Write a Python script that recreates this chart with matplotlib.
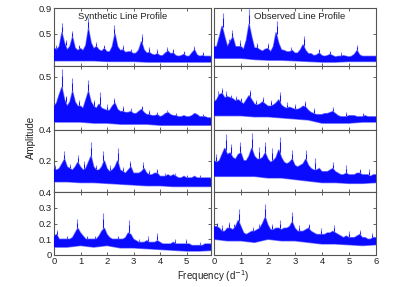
import numpy as np
import matplotlib
matplotlib.use("Agg")
import matplotlib.pyplot as plt

plt.rcParams['font.family'] = ['Liberation Sans', 'DejaVu Sans']

# frequency grids (d^-1)
freq_left = np.round(np.arange(0, 5.95, 0.1), 2)      # 0.0 .. 5.9
freq_right = np.round(np.arange(0, 6.05, 0.1), 2)     # 0.0 .. 6.0
freq_coarse = np.round(np.arange(0, 6.05, 0.5), 2)    # 0.0 .. 6.0

# ---- synthetic line profile (left column), upper edge of dense band ----
syn1_hi = [0.28, 0.25, 0.30, 0.52, 0.35, 0.25, 0.30, 0.45, 0.28, 0.24,
           0.27, 0.24, 0.32, 0.58, 0.36, 0.27, 0.30, 0.25, 0.23, 0.27,
           0.22, 0.22, 0.30, 0.50, 0.30, 0.24, 0.25, 0.21, 0.22, 0.22,
           0.19, 0.20, 0.25, 0.38, 0.25, 0.20, 0.21, 0.18, 0.17, 0.19,
           0.16, 0.16, 0.20, 0.23, 0.19, 0.20, 0.16, 0.15, 0.16, 0.18,
           0.15, 0.15, 0.20, 0.25, 0.17, 0.15, 0.16, 0.15, 0.15, 0.15]
syn1_lo = [0.08, 0.08, 0.08, 0.08, 0.07, 0.07, 0.07, 0.06, 0.06, 0.06, 0.06, 0.06, 0.06]
syn1_spk_f = [0.29, 0.67, 1.30, 2.27, 3.30, 4.26, 5.27, 0.08, 0.45, 0.95, 1.60, 1.90,
              2.60, 2.90, 3.60, 3.90, 4.50, 4.90, 5.60]
syn1_spk_a = [0.66, 0.55, 0.75, 0.63, 0.50, 0.29, 0.31, 0.32, 0.40, 0.33, 0.38, 0.33,
              0.32, 0.27, 0.30, 0.26, 0.27, 0.23, 0.22]

syn2_hi = [0.22, 0.25, 0.33, 0.40, 0.28, 0.22, 0.26, 0.36, 0.26, 0.22,
           0.22, 0.20, 0.28, 0.36, 0.26, 0.22, 0.20, 0.24, 0.20, 0.19,
           0.18, 0.18, 0.22, 0.25, 0.19, 0.17, 0.17, 0.16, 0.16, 0.17,
           0.15, 0.15, 0.17, 0.19, 0.16, 0.14, 0.14, 0.13, 0.13, 0.14,
           0.12, 0.13, 0.15, 0.16, 0.14, 0.13, 0.13, 0.12, 0.12, 0.13,
           0.12, 0.12, 0.13, 0.15, 0.14, 0.12, 0.12, 0.12, 0.11, 0.11]
syn2_lo = [0.07, 0.07, 0.07, 0.06, 0.06, 0.05, 0.05, 0.05, 0.04, 0.04, 0.04, 0.04, 0.04]
syn2_spk_f = [0.29, 0.69, 1.27, 1.74, 2.28, 3.30, 4.25, 5.30, 0.10, 0.45, 0.95, 1.50,
              2.00, 2.60, 2.90, 3.60, 3.90, 4.60, 5.60]
syn2_spk_a = [0.57, 0.49, 0.47, 0.35, 0.30, 0.22, 0.18, 0.16, 0.30, 0.32, 0.28, 0.28,
              0.24, 0.22, 0.20, 0.18, 0.17, 0.16, 0.15]

syn3_hi = [0.15, 0.14, 0.15, 0.18, 0.21, 0.16, 0.15, 0.14, 0.16, 0.19,
           0.16, 0.14, 0.15, 0.19, 0.23, 0.16, 0.14, 0.14, 0.16, 0.20,
           0.15, 0.13, 0.14, 0.16, 0.20, 0.14, 0.13, 0.12, 0.14, 0.16,
           0.12, 0.12, 0.12, 0.13, 0.15, 0.12, 0.11, 0.11, 0.12, 0.12,
           0.10, 0.10, 0.10, 0.11, 0.10, 0.11, 0.10, 0.09, 0.09, 0.10,
           0.09, 0.09, 0.09, 0.10, 0.09, 0.09, 0.09, 0.09, 0.09, 0.09]
syn3_lo = [0.065, 0.065, 0.06, 0.06, 0.055, 0.05, 0.045, 0.04, 0.04, 0.035, 0.035, 0.035, 0.035]
syn3_spk_f = [0.39, 0.89, 1.38, 1.86, 2.40, 2.87, 3.37, 3.87, 4.55, 0.05, 0.60, 1.15,
              1.60, 2.10, 2.60, 3.60, 4.20, 5.00, 5.50]
syn3_spk_a = [0.26, 0.235, 0.32, 0.26, 0.28, 0.20, 0.19, 0.15, 0.12, 0.17, 0.18, 0.20,
              0.17, 0.17, 0.16, 0.14, 0.12, 0.11, 0.11]

syn4_hi = [0.12, 0.13, 0.10, 0.10, 0.10, 0.10, 0.10, 0.11, 0.14, 0.17,
           0.14, 0.12, 0.10, 0.10, 0.10, 0.10, 0.10, 0.12, 0.15, 0.17,
           0.13, 0.11, 0.10, 0.10, 0.10, 0.10, 0.10, 0.11, 0.14, 0.13,
           0.10, 0.09, 0.08, 0.08, 0.08, 0.09, 0.08, 0.08, 0.08, 0.09,
           0.08, 0.07, 0.07, 0.07, 0.07, 0.08, 0.07, 0.07, 0.07, 0.07,
           0.07, 0.07, 0.06, 0.06, 0.06, 0.06, 0.06, 0.07, 0.07, 0.07]
syn4_lo = [0.05, 0.05, 0.06, 0.05, 0.06, 0.045, 0.045, 0.04, 0.035, 0.03, 0.025, 0.025, 0.03]
syn4_spk_f = [0.10, 0.88, 1.86, 2.84, 3.55, 3.87, 4.55, 4.97, 0.50, 1.25, 1.55, 2.40,
              3.20, 5.50]
syn4_spk_a = [0.16, 0.227, 0.265, 0.22, 0.12, 0.14, 0.10, 0.10, 0.12, 0.12, 0.12, 0.12,
              0.10, 0.08]

# ---- observed line profile (right column) ----
obs1_hi = [0.30, 0.30, 0.45, 0.62, 0.45, 0.30, 0.38, 0.45, 0.30, 0.30,
           0.30, 0.26, 0.40, 0.65, 0.45, 0.28, 0.28, 0.25, 0.23, 0.26,
           0.27, 0.22, 0.30, 0.52, 0.35, 0.25, 0.24, 0.22, 0.22, 0.24,
           0.20, 0.20, 0.25, 0.33, 0.24, 0.19, 0.19, 0.16, 0.17, 0.20,
           0.16, 0.15, 0.16, 0.18, 0.16, 0.14, 0.15, 0.15, 0.16, 0.15,
           0.14, 0.15, 0.18, 0.24, 0.17, 0.15, 0.15, 0.15, 0.15, 0.15, 0.15]
obs1_lo = [0.12, 0.12, 0.12, 0.10, 0.09, 0.09, 0.08, 0.07, 0.06, 0.06, 0.07, 0.07, 0.07]
obs1_spk_f = [0.32, 0.68, 0.97, 1.31, 2.33, 3.32, 5.30, 0.15, 0.55, 1.60, 2.00, 2.85,
              3.90, 4.30, 4.70]
obs1_spk_a = [0.83, 0.56, 0.40, 0.89, 0.70, 0.47, 0.33, 0.40, 0.42, 0.35, 0.36, 0.30,
              0.27, 0.24, 0.22]

obs2_hi = [0.26, 0.28, 0.33, 0.34, 0.30, 0.31, 0.30, 0.29, 0.27, 0.28,
           0.26, 0.24, 0.28, 0.32, 0.28, 0.24, 0.23, 0.24, 0.26, 0.24,
           0.22, 0.22, 0.23, 0.25, 0.28, 0.23, 0.21, 0.20, 0.21, 0.20,
           0.19, 0.19, 0.20, 0.22, 0.21, 0.18, 0.16, 0.15, 0.14, 0.14,
           0.14, 0.15, 0.15, 0.16, 0.17, 0.15, 0.13, 0.12, 0.12, 0.12,
           0.13, 0.13, 0.13, 0.12, 0.12, 0.12, 0.13, 0.12, 0.12, 0.12, 0.12]
obs2_lo = [0.13, 0.13, 0.13, 0.12, 0.12, 0.11, 0.10, 0.09, 0.06, 0.06, 0.06, 0.07, 0.07]
obs2_spk_f = [0.29, 0.13, 0.45, 0.64, 0.80, 1.00, 1.34, 1.55, 1.83, 2.10, 2.43, 2.70,
              3.00, 3.38, 3.70, 4.40, 4.90, 5.50]
obs2_spk_a = [0.39, 0.36, 0.36, 0.33, 0.32, 0.30, 0.37, 0.28, 0.31, 0.28, 0.35, 0.26,
              0.24, 0.27, 0.20, 0.21, 0.17, 0.16]

obs3_hi = [0.20, 0.19, 0.20, 0.24, 0.28, 0.24, 0.25, 0.22, 0.21, 0.24,
           0.25, 0.20, 0.20, 0.23, 0.28, 0.23, 0.21, 0.21, 0.22, 0.25,
           0.21, 0.19, 0.20, 0.22, 0.27, 0.22, 0.19, 0.18, 0.19, 0.21,
           0.17, 0.16, 0.17, 0.18, 0.21, 0.17, 0.15, 0.14, 0.14, 0.15,
           0.13, 0.13, 0.13, 0.14, 0.15, 0.13, 0.12, 0.11, 0.11, 0.12,
           0.11, 0.11, 0.11, 0.12, 0.12, 0.11, 0.11, 0.11, 0.10, 0.11, 0.11]
obs3_lo = [0.10, 0.10, 0.10, 0.10, 0.09, 0.09, 0.08, 0.07, 0.06, 0.06, 0.055, 0.055, 0.06]
obs3_spk_f = [0.06, 0.43, 0.62, 0.97, 1.40, 1.65, 1.90, 2.15, 2.43, 2.89, 3.42, 3.75,
              4.41, 4.90, 5.40, 5.75]
obs3_spk_a = [0.245, 0.37, 0.31, 0.32, 0.38, 0.29, 0.32, 0.28, 0.35, 0.27, 0.27, 0.22,
              0.19, 0.17, 0.15, 0.15]

obs4_hi = [0.18, 0.18, 0.17, 0.15, 0.15, 0.17, 0.17, 0.16, 0.18, 0.22,
           0.18, 0.14, 0.13, 0.14, 0.15, 0.15, 0.16, 0.17, 0.20, 0.24,
           0.19, 0.16, 0.16, 0.17, 0.17, 0.16, 0.17, 0.17, 0.18, 0.21,
           0.17, 0.15, 0.15, 0.15, 0.16, 0.17, 0.15, 0.14, 0.13, 0.13,
           0.13, 0.13, 0.14, 0.14, 0.15, 0.14, 0.13, 0.12, 0.11, 0.12,
           0.11, 0.11, 0.11, 0.12, 0.13, 0.11, 0.11, 0.10, 0.10, 0.11, 0.11]
obs4_lo = [0.10, 0.09, 0.09, 0.08, 0.10, 0.09, 0.09, 0.08, 0.07, 0.07, 0.065, 0.06, 0.065]
obs4_spk_f = [0.10, 0.30, 0.55, 0.75, 0.93, 1.45, 1.65, 1.90, 2.15, 2.45, 2.89, 3.15,
              3.50, 3.95, 4.45, 5.00, 5.40, 5.85]
obs4_spk_a = [0.205, 0.19, 0.21, 0.20, 0.29, 0.18, 0.20, 0.324, 0.20, 0.22, 0.275, 0.19,
              0.20, 0.17, 0.19, 0.15, 0.16, 0.14]

# axis settings per row
row_ylim = [(0, 0.9), (0, 0.6), (0, 0.4), (0, 0.4)]
row_yticks = [[0.5, 0.9], [0.5], [0.2, 0.4], [0, 0.1, 0.2, 0.3, 0.4]]
row_yticklabels = [["0.5", "0.9"], ["0.5"], ["0.2", "0.4"], ["0", "0.1", "0.2", "0.3", "0.4"]]

left_rows = [(syn1_hi, syn1_lo, syn1_spk_f, syn1_spk_a),
             (syn2_hi, syn2_lo, syn2_spk_f, syn2_spk_a),
             (syn3_hi, syn3_lo, syn3_spk_f, syn3_spk_a),
             (syn4_hi, syn4_lo, syn4_spk_f, syn4_spk_a)]
right_rows = [(obs1_hi, obs1_lo, obs1_spk_f, obs1_spk_a),
              (obs2_hi, obs2_lo, obs2_spk_f, obs2_spk_a),
              (obs3_hi, obs3_lo, obs3_spk_f, obs3_spk_a),
              (obs4_hi, obs4_lo, obs4_spk_f, obs4_spk_a)]

W, H = 415, 287
fig = plt.figure(figsize=(W / 100, H / 100), dpi=100)

row_px = [(8, 66), (66, 129.5), (129.5, 192), (192, 255)]
col_px = [(54, 211), (214, 376)]
col_xlim = [(0, 5.92), (0, 6.0)]
col_xticks = [range(0, 6), range(0, 7)]
col_freq = [freq_left, freq_right]

dark = (0.0, 0.0, 1.0)
light = (0.5, 0.5, 1.0)


def draw_panel(ax, f, hi, lo, spk_f, spk_a):
    # spikes start from the band's upper edge at the nearest grid point
    idx = np.clip(np.round(np.array(spk_f) * 10).astype(int), 0, len(hi) - 1)
    ax.vlines(spk_f, hi[idx] - 0.02, spk_a, color=light, lw=0.8, zorder=1)
    ax.vlines(spk_f, hi[idx] - 0.02, hi[idx] + (np.array(spk_a) - hi[idx]) * 0.6,
              color=dark, lw=0.6, zorder=1)
    xs = np.concatenate([f, freq_coarse[::-1]])
    ys = np.concatenate([hi, lo[::-1]])
    ax.fill(xs, ys, color=light, lw=1.0, ec=light, zorder=2)
    ax.fill(xs, ys, color=dark, lw=0, alpha=0.92, zorder=3)


for c in range(2):
    rows = left_rows if c == 0 else right_rows
    for r in range(4):
        y0, y1 = row_px[r]
        x0, x1 = col_px[c]
        ax = fig.add_axes([x0 / W, 1 - y1 / H, (x1 - x0) / W, (y1 - y0) / H])
        hi, lo, sf, sa = rows[r]
        draw_panel(ax, col_freq[c], np.array(hi), np.array(lo), sf, sa)
        ax.set_xlim(*col_xlim[c])
        ax.set_ylim(*row_ylim[r])
        ax.set_yticks(row_yticks[r])
        ax.set_xticks(list(col_xticks[c]))
        ax.tick_params(direction="in", length=2, width=0.5, top=True, right=True,
                       labelsize=6.8, pad=1.5, colors="#222222")
        if c == 0:
            ax.set_yticklabels(row_yticklabels[r])
        else:
            ax.set_yticklabels([])
        if r == 3:
            ax.set_xticklabels([str(i) for i in col_xticks[c]])
        else:
            ax.set_xticklabels([])
        for s in ax.spines.values():
            s.set_color("#555555")
            s.set_linewidth(0.8)
        if r < 3:
            ax.spines["bottom"].set_color("#222222")
        if r == 0:
            if c == 0:
                ax.text(0.44, 0.86, "Synthetic Line Profile", transform=ax.transAxes,
                        ha="center", va="center", fontsize=6.8, color="#222222")
            else:
                ax.text(0.53, 0.845, "Observed Line Profile", transform=ax.transAxes,
                        ha="center", va="center", fontsize=6.8, color="#222222")

fig.text(31 / W, 1 - 137 / H, "Amplitude", rotation=90, ha="center", va="center",
         fontsize=7, color="#222222")
fig.text(213 / W, 1 - 276 / H, "Frequency (d$^{-1}$)", ha="center", va="center",
         fontsize=7, color="#222222")

fig.savefig("out.png", dpi=100)
